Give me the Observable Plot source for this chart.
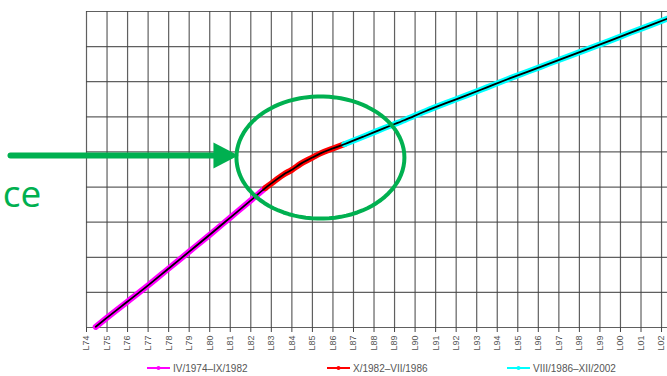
<!DOCTYPE html>
<html><head><meta charset="utf-8">
<script src="https://cdn.jsdelivr.net/npm/d3@7"></script>
<script src="https://cdn.jsdelivr.net/npm/@observablehq/plot@0.6"></script>
<style>
html,body{margin:0;padding:0;background:#fff;overflow:hidden}
#wrap{position:relative;width:667px;height:376px}
#chart svg{display:block}
#legend{position:absolute;left:0;top:362px;width:667px;height:12px;font:10px "Liberation Sans",Arial,sans-serif;color:#555}
.item{position:absolute;top:0;height:12px;display:flex;align-items:center;gap:3px;white-space:nowrap}
</style></head><body>
<div id="wrap"><div id="chart"></div><div id="legend"></div></div>
<script>
// ---- data ----
const tickYears = d3.range(1974, 2003);
const tickLabels = tickYears.map(y => "L" + String(y).slice(2));
const seriesNames = ["IV/1974–IX/1982", "X/1982–VII/1986", "VIII/1986–XII/2002"];
const seriesColors = ["#ff00ff", "#ff0000", "#00ffff"];

const purpleYears  = [1974.45, 1975.0, 1976.0, 1977.0, 1978.0, 1979.0, 1980.0, 1981.0, 1982.0, 1982.7];
const purpleValues = [0.02,    0.28,   0.74,   1.20,   1.68,   2.16,   2.64,   3.13,   3.62,   3.97];

const redYears  = [1982.7, 1983.2, 1983.6, 1984.0, 1984.42, 1985.0, 1985.39, 1986.0, 1986.55];
const redValues = [3.97,   4.19,   4.36,   4.49,   4.66,    4.84,   4.96,    5.10,   5.22];

const cyanYears  = [1986.55, 1987.5, 1988.5, 1989.5, 1990.5, 1991.5, 1992.5, 1993.5, 1994.5, 1995.5, 1996.5, 1997.5, 1998.5, 1999.5, 2000.5, 2001.5, 2002.3];
const cyanValues = [5.22,    5.44,   5.68,   5.91,   6.16,   6.39,   6.61,   6.84,   7.07,   7.29,   7.51,   7.73,   7.95,   8.17,   8.40,   8.62,   8.80];

// annotation (data coordinates)
const annoGreen = "#00b050";
const arrowShaftX = [1970.3, 1980.3];
const arrowY = 4.9;
const arrowHeadX = [1980.18, 1980.18, 1981.4];
const arrowHeadY = [5.27, 4.53, 4.9];
const ellipseCenter = [1985.39, 4.84];
const ellipseRadii = [4.09, 1.74];
const annoText = "ce";
const annoTextPos = [1969.92, 3.78];

// ---- build tables ----
const toRows = (xs, ys) => xs.map((x, i) => ({x, y: ys[i]}));
const segs = [toRows(purpleYears, purpleValues), toRows(redYears, redValues), toRows(cyanYears, cyanValues)];
const blackRows = [...segs[0], ...segs[1].slice(1), ...segs[2].slice(1)];
const ellipseRows = d3.range(0, 361, 4).map(a => ({
  x: ellipseCenter[0] + ellipseRadii[0] * Math.cos(a * Math.PI / 180),
  y: ellipseCenter[1] + ellipseRadii[1] * Math.sin(a * Math.PI / 180)
}));
const headRows = [...arrowHeadX.map((x, i) => ({x, y: arrowHeadY[i]})), {x: arrowHeadX[0], y: arrowHeadY[0]}];

const chart = Plot.plot({
  width: 667, height: 358,
  marginLeft: 86, marginRight: 0, marginTop: 11, marginBottom: 31,
  style: {fontFamily: "'Liberation Sans', Arial, sans-serif", background: "#fff"},
  x: {domain: [1974, 2002.29], axis: null},
  y: {domain: [0, 9], axis: null},
  marks: [
    Plot.gridX(tickYears, {stroke: "#444", strokeOpacity: 0.85, strokeWidth: 1.2}),
    Plot.gridY(d3.range(0, 10), {stroke: "#444", strokeOpacity: 0.85, strokeWidth: 1.2}),
    Plot.axisX(tickYears, {tickSize: 5, tickPadding: 3, tickRotate: -90, fontSize: 9, fill: "#555", stroke: "#444",
      tickFormat: (d) => tickLabels[tickYears.indexOf(d)], label: null}),
    ...segs.map((rows, i) => Plot.line(rows, {x: "x", y: "y", stroke: seriesColors[i], strokeWidth: 6, curve: "monotone-x"})),
    Plot.line(blackRows, {x: "x", y: "y", stroke: "#000", strokeWidth: 1.8, curve: "monotone-x"}),
    Plot.line(ellipseRows, {x: "x", y: "y", stroke: annoGreen, strokeWidth: 4}),
    Plot.line(arrowShaftX.map(x => ({x, y: arrowY})), {x: "x", y: "y", stroke: annoGreen, strokeWidth: 6}),
    Plot.line(headRows, {x: "x", y: "y", fill: annoGreen, stroke: "none"}),
    Plot.text([{x: annoTextPos[0], y: annoTextPos[1], t: annoText}], {x: "x", y: "y", text: "t", fill: annoGreen,
      fontSize: 37, textAnchor: "start", fontFamily: "'Open Sans', sans-serif"})
  ]
});
document.getElementById("chart").appendChild(chart);

// ---- legend ----
const legendLeft = [147, 327, 507];
const legend = document.getElementById("legend");
seriesNames.forEach((name, i) => {
  const item = document.createElement("div");
  item.className = "item";
  item.style.left = legendLeft[i] + "px";
  item.innerHTML = `<svg width="23" height="8"><line x1="0" y1="4" x2="23" y2="4" stroke="${seriesColors[i]}" stroke-width="2"/><circle cx="11.5" cy="4" r="2" fill="${seriesColors[i]}"/></svg><span>${name}</span>`;
  legend.appendChild(item);
});
</script>
</body></html>
